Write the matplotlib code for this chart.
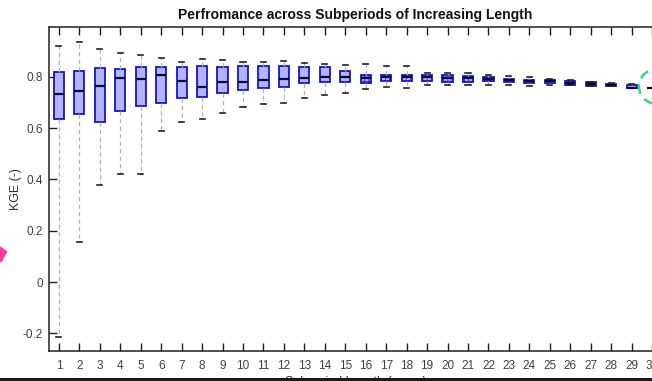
import matplotlib
matplotlib.use("Agg")
import matplotlib.pyplot as plt
from matplotlib.patches import Polygon, Ellipse, Rectangle

# Subperiod lengths (years) and KGE box statistics per length
lengths = list(range(1, 31))
whis_lo = [-0.213, 0.157, 0.378, 0.420, 0.420, 0.588, 0.625, 0.636, 0.660, 0.682,
           0.694, 0.698, 0.716, 0.729, 0.737, 0.753, 0.759, 0.757, 0.767, 0.769,
           0.770, 0.770, 0.768, 0.764, 0.768, 0.767, 0.764, 0.764, 0.757, 0.757]
q1 = [0.635, 0.655, 0.624, 0.666, 0.687, 0.699, 0.717, 0.720, 0.735, 0.748,
      0.756, 0.761, 0.774, 0.778, 0.778, 0.776, 0.783, 0.783, 0.783, 0.781,
      0.778, 0.783, 0.779, 0.777, 0.774, 0.767, 0.764, 0.764, 0.757, 0.757]
med = [0.733, 0.746, 0.765, 0.795, 0.790, 0.807, 0.783, 0.759, 0.779, 0.779,
       0.786, 0.792, 0.794, 0.798, 0.799, 0.796, 0.798, 0.798, 0.799, 0.795,
       0.794, 0.791, 0.786, 0.783, 0.782, 0.774, 0.772, 0.769, 0.758, 0.757]
q3 = [0.820, 0.823, 0.835, 0.829, 0.837, 0.839, 0.839, 0.843, 0.839, 0.843,
      0.843, 0.844, 0.839, 0.837, 0.823, 0.808, 0.808, 0.807, 0.808, 0.807,
      0.804, 0.798, 0.792, 0.787, 0.787, 0.783, 0.778, 0.773, 0.770, 0.757]
whis_hi = [0.919, 0.934, 0.908, 0.894, 0.885, 0.873, 0.859, 0.868, 0.864, 0.856,
           0.859, 0.862, 0.855, 0.851, 0.847, 0.850, 0.843, 0.844, 0.813, 0.813,
           0.816, 0.806, 0.802, 0.799, 0.790, 0.789, 0.780, 0.775, 0.771, 0.757]
hatched = [16, 17, 18, 19, 20, 21, 26]

y_ticks = [-0.2, 0, 0.2, 0.4, 0.6, 0.8]
y_tick_labels = ["-0.2", "0", "0.2", "0.4", "0.6", "0.8"]

plt.rcParams["font.family"] = ["Liberation Sans", "DejaVu Sans"]
plt.rcParams["hatch.linewidth"] = 0.5

W, H = 652, 381
fig = plt.figure(figsize=(W / 100, H / 100), dpi=100)
fig.patch.set_facecolor("white")

# axes box (extends slightly beyond the right edge of the canvas)
left_px, right_px, top_px, bottom_px = 48.7, 662.3, 27.3, 351.3
ax = fig.add_axes([left_px / W, 1 - bottom_px / H,
                   (right_px - left_px) / W, (bottom_px - top_px) / H])

stats = [dict(whislo=a, q1=b, med=c, q3=d, whishi=e, fliers=[], label=str(n))
         for n, a, b, c, d, e in zip(lengths, whis_lo, q1, med, q3, whis_hi)]

art = ax.bxp(stats, positions=lengths, widths=0.5, patch_artist=True,
             showfliers=False,
             boxprops=dict(facecolor="#b3b3ff", edgecolor="#1414c8", linewidth=1.3),
             medianprops=dict(color="#0a0a30", linewidth=1.6),
             whiskerprops=dict(color="#b4b4b4", linewidth=0.9, linestyle=(0, (3.5, 2.5))),
             capprops=dict(color="#202020", linewidth=1.2))

for n, patch in zip(lengths, art["boxes"]):
    if n in hatched:
        patch.set_hatch("++++")

ax.set_xlim(0.5, 30.5)
ax.set_ylim(-0.27, 0.993)
ax.set_xticks(lengths)
ax.set_xticklabels([str(n) for n in lengths])
ax.set_yticks(y_ticks)
ax.set_yticklabels(y_tick_labels)

ax.tick_params(direction="in", length=6, width=1, colors="#202020",
               labelcolor="#404040", labelsize=8.5, top=True, right=True)
ax.tick_params(axis="x", pad=6)
ax.tick_params(axis="y", pad=4)
for s in ax.spines.values():
    s.set_linewidth(1.1)
    s.set_color("#202020")

ax.set_title("Perfromance across Subperiods of Increasing Length",
             fontsize=10, fontweight="bold", color="#111111", pad=6)
ax.set_ylabel("KGE (-)", fontsize=9, color="#303030", labelpad=1)
ax.set_xlabel("Subperiod Length (years)", fontsize=9, color="#303030", labelpad=3)


def to_fig(x, y):
    """Convert canvas pixel position (origin top-left) to figure fraction."""
    return (x / W, 1 - y / H)


# annotation marks: pink arrow head at the left, green dashed ring at the right
arrow = Polygon([to_fig(-6, 242), to_fig(7.5, 251.5), to_fig(1.5, 262.5), to_fig(-8, 258)],
                closed=True, transform=fig.transFigure, facecolor="#ff3a9a",
                edgecolor="none")
fig.add_artist(arrow)

ring = Ellipse(to_fig(657, 86.5), 36 / W, 35 / H, transform=fig.transFigure,
               facecolor="none", edgecolor="#3ad67a", linewidth=1.8,
               linestyle=(0, (4, 2.5)))
fig.add_artist(ring)

# dark strip along the bottom edge
fig.add_artist(Rectangle((0, 0), 1, 3 / H, transform=fig.transFigure,
                         facecolor="#1a1a1a", edgecolor="none", zorder=10))

fig.savefig("out.png", dpi=100)
